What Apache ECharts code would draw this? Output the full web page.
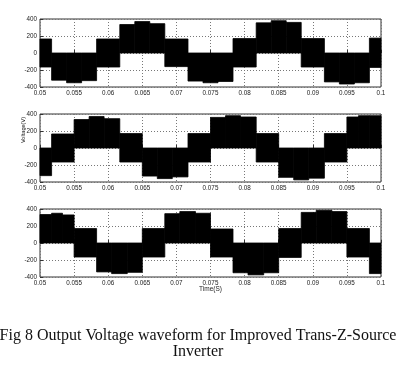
<!DOCTYPE html>
<html>
<head>
<meta charset="utf-8">
<script src="https://cdn.jsdelivr.net/npm/echarts@6/dist/echarts.min.js"></script>
<style>
html, body { margin: 0; padding: 0; background: #fff; }
#chart { width: 396px; height: 375px; }
</style>
</head>
<body>
<div id="chart"></div>
<script>
var xTicks = [0.05, 0.055, 0.06, 0.065, 0.07, 0.075, 0.08, 0.085, 0.09, 0.095, 0.1];
var yTicks = [-400, -200, 0, 200, 400];

// switching times (s) and the low / high edge of the PWM band in each interval (V)
var t1 = [0.05, 0.0517, 0.0539, 0.0561, 0.0583, 0.0617, 0.0639, 0.0661, 0.0683, 0.0717, 0.0739, 0.0761, 0.0783, 0.0817, 0.0839, 0.0861, 0.0883, 0.0917, 0.0939, 0.0961, 0.0983, 0.1];
var lo1 = [-165, -320, -350, -325, -165, 0, 0, 0, -160, -330, -350, -335, -165, 0, 0, 0, -165, -340, -365, -350, -170];
var hi1 = [165, 0, 0, 0, 165, 335, 370, 345, 165, 0, 0, 0, 170, 355, 380, 360, 170, 0, 0, 0, 175];

var t2 = [0.05, 0.0517, 0.055, 0.0572, 0.0594, 0.0617, 0.065, 0.0672, 0.0694, 0.0717, 0.075, 0.0772, 0.0794, 0.0817, 0.085, 0.0872, 0.0894, 0.0917, 0.095, 0.0967, 0.0983, 0.1];
var lo2 = [-325, -165, 0, 0, 0, -165, -330, -360, -340, -165, 0, 0, 0, -165, -345, -375, -355, -165, 0, 0, 0];
var hi2 = [0, 165, 335, 370, 345, 170, 0, 0, 0, 170, 360, 380, 365, 170, 0, 0, 0, 170, 365, 380, 380];

var t3 = [0.05, 0.0517, 0.0533, 0.055, 0.0583, 0.0605, 0.0628, 0.065, 0.0683, 0.0705, 0.0728, 0.075, 0.0783, 0.0805, 0.0828, 0.085, 0.0883, 0.0905, 0.0928, 0.095, 0.0983, 0.1];
var lo3 = [0, 0, 0, -165, -340, -360, -345, -165, 0, 0, 0, -165, -350, -375, -350, -170, 0, 0, 0, -165, -360];
var hi3 = [335, 350, 330, 170, 0, 0, 0, 170, 345, 370, 350, 165, 0, 0, 0, 170, 360, 385, 370, 170, 0];

function segs(t, lo, hi) {
	var out = [];
	for (var i = 0; i < lo.length; i++) {
		out.push([t[i], t[i + 1], lo[i], hi[i]]);
	}
	return out;
}

function renderBand(params, api) {
	var a = api.coord([api.value(0), api.value(3)]);
	var b = api.coord([api.value(1), api.value(2)]);
	return {
		type: 'rect',
		shape: { x: a[0], y: a[1], width: b[0] - a[0], height: b[1] - a[1] },
		style: { fill: '#000', stroke: '#000', lineWidth: 0.8 }
	};
}

var labelFont = 'Liberation Sans, Arial, sans-serif';
var tops = [19, 114, 209];
var grids = [], xAxes = [], yAxes = [], series = [];
var sets = [segs(t1, lo1, hi1), segs(t2, lo2, hi2), segs(t3, lo3, hi3)];

for (var k = 0; k < 3; k++) {
	grids.push({
		left: 40, top: tops[k], width: 341, height: 68,
		show: true, borderColor: '#333', borderWidth: 1, backgroundColor: '#fff'
	});
	xAxes.push({
		gridIndex: k, type: 'value', min: 0.05, max: 0.1, interval: 0.005,
		axisLine: { show: false },
		axisTick: { inside: true, length: 3, lineStyle: { color: '#333' } },
		axisLabel: {
			fontSize: 6.3, color: '#222', fontFamily: labelFont, margin: 3,
			formatter: function(v) { return String(+v.toFixed(3)); }
		},
		splitLine: { show: true, lineStyle: { color: '#777', type: [1, 2], width: 1 } },
		name: k == 2 ? 'Time(S)' : '',
		nameLocation: 'middle', nameGap: 9, nameMoveOverlap: false,
		nameTextStyle: { fontSize: 6.5, color: '#222', fontFamily: labelFont }
	});
	yAxes.push({
		gridIndex: k, type: 'value', min: -400, max: 400, interval: 200,
		axisLine: { show: false },
		axisTick: { inside: true, length: 3, lineStyle: { color: '#333' } },
		axisLabel: { fontSize: 6.3, color: '#222', fontFamily: labelFont, margin: 3 },
		splitLine: { show: true, lineStyle: { color: '#777', type: [1, 2], width: 1 } },
		name: k == 1 ? 'Voltage(V)' : '',
		nameLocation: 'middle', nameGap: 14, nameMoveOverlap: false,
		nameTextStyle: { fontSize: 5.6, color: '#222', fontFamily: labelFont, padding: [0, 0, 0, 36] }
	});
	series.push({
		type: 'custom', xAxisIndex: k, yAxisIndex: k,
		renderItem: renderBand,
		encode: { x: [0, 1], y: [2, 3] },
		data: sets[k],
		silent: true
	});
}

var chart = echarts.init(document.getElementById('chart'));
chart.setOption({
	animation: false,
	backgroundColor: '#fff',
	title: {
		text: 'Fig 8 Output Voltage waveform for Improved Trans-Z-Source\nInverter',
		left: 'center', top: 323,
		textStyle: {
			fontFamily: 'Liberation Serif, Times New Roman, serif',
			fontWeight: 'normal', fontSize: 16, lineHeight: 16, color: '#111'
		}
	},
	grid: grids,
	xAxis: xAxes,
	yAxis: yAxes,
	series: series
});
</script>
</body>
</html>
